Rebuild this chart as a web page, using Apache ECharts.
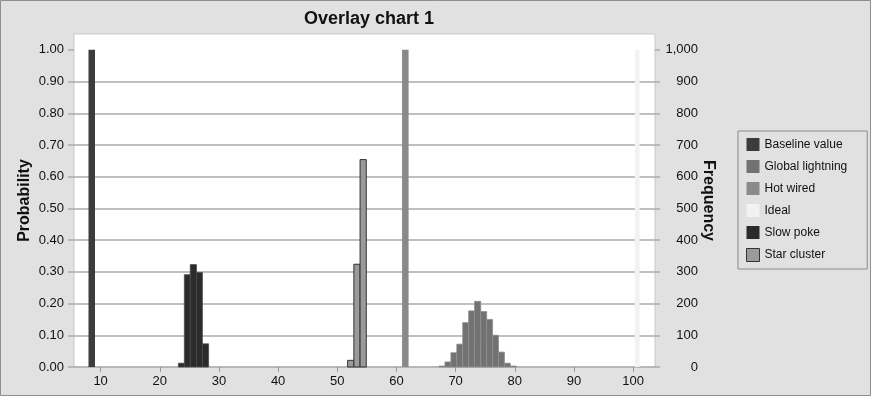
<!DOCTYPE html>
<html>
<head>
<meta charset="utf-8">
<title>Overlay chart 1</title>
<script src="https://cdn.jsdelivr.net/npm/echarts@6/dist/echarts.min.js"></script>
<style>
    html, body {margin: 0; padding: 0; background: #e1e1e1;}
    #chart {width: 871px; height: 396px;}
</style>
</head>
<body>
<div id="chart"></div>
<script>
    // 每个分箱: [起点, 终点, 概率]
    var baselineBins = [[7.95, 9.05, 1.0]];
    var globalLightningBins = [
        [67.2, 68.2, 0.003], [68.2, 69.2, 0.016], [69.2, 70.2, 0.045],
        [70.2, 71.2, 0.072], [71.2, 72.2, 0.14], [72.2, 73.2, 0.177],
        [73.2, 74.25, 0.207], [74.25, 75.25, 0.175], [75.25, 76.25, 0.15],
        [76.25, 77.25, 0.1], [77.25, 78.25, 0.047], [78.25, 79.25, 0.012],
        [79.25, 80.25, 0.003]
    ];
    var hotWiredBins = [[60.95, 62.05, 1.0]];
    var idealBins = [[100.3, 101.1, 1.0]];
    var slowPokeBins = [
        [23.15, 24.15, 0.012], [24.15, 25.15, 0.291], [25.15, 26.2, 0.323],
        [26.2, 27.2, 0.298], [27.2, 28.25, 0.073]
    ];
    var starClusterBins = [[51.75, 52.8, 0.021], [52.8, 53.85, 0.324], [53.85, 54.9, 0.654]];

    var xTicks = [10, 20, 30, 40, 50, 60, 70, 80, 90, 100];
    var probTicks = [0, 0.1, 0.2, 0.3, 0.4, 0.5, 0.6, 0.7, 0.8, 0.9, 1.0];
    var freqTicks = [0, 100, 200, 300, 400, 500, 600, 700, 800, 900, 1000];

    var font = '"Liberation Sans", Arial, sans-serif';
    var gridColor = '#ababab';

    var renderBins = function (params, api) {
        var topLeft = api.coord([api.value(0), api.value(2)]);
        var bottomRight = api.coord([api.value(1), 0]);
        return {
            type: 'rect',
            shape: {
                x: topLeft[0],
                y: topLeft[1],
                width: bottomRight[0] - topLeft[0],
                height: bottomRight[1] - topLeft[1]
            },
            style: api.style()
        };
    };

    var binSeries = function (name, data, itemStyle) {
        return {
            name: name,
            type: 'custom',
            renderItem: renderBins,
            encode: {x: [0, 1], y: 2},
            itemStyle: itemStyle,
            data: data
        };
    };

    var noBorder = {borderWidth: 0};

    var option = {
        backgroundColor: '#e1e1e1',
        animation: false,
        textStyle: {fontFamily: font},
        title: {
            text: 'Overlay chart 1',
            left: 364,
            top: 5,
            textAlign: 'center',
            textStyle: {fontFamily: font, fontSize: 18, fontWeight: 'bold', color: '#111'}
        },
        graphic: [{
            type: 'rect',
            shape: {x: 0.5, y: 0.5, width: 870, height: 395},
            style: {fill: 'none', stroke: '#8e8e8e', lineWidth: 1},
            silent: true
        }],
        legend: {
            orient: 'vertical',
            left: 738,
            top: 131,
            padding: [7, 20, 7, 8],
            itemWidth: 13,
            itemHeight: 13,
            itemGap: 9,
            icon: 'rect',
            borderColor: '#8a8a8a',
            borderWidth: 1,
            textStyle: {fontFamily: font, fontSize: 12, color: '#111'},
            data: [
                {name: 'Baseline value', itemStyle: noBorder},
                {name: 'Global lightning', itemStyle: noBorder},
                {name: 'Hot wired', itemStyle: noBorder},
                {name: 'Ideal', itemStyle: noBorder},
                {name: 'Slow poke', itemStyle: noBorder},
                {name: 'Star cluster', itemStyle: {borderColor: '#333', borderWidth: 1}}
            ]
        },
        grid: {
            left: 74,
            top: 34,
            width: 581,
            height: 333,
            show: true,
            backgroundColor: '#fff',
            borderColor: '#c9c9c9',
            borderWidth: 1
        },
        xAxis: {
            type: 'value',
            min: 5.5,
            max: 103.7,
            axisLine: {show: false},
            splitLine: {show: false},
            axisTick: {show: true, customValues: xTicks, length: 5, lineStyle: {color: '#999'}},
            axisLabel: {customValues: xTicks, margin: 8, fontSize: 13, color: '#111', fontFamily: font}
        },
        yAxis: [{
            type: 'value',
            min: 0,
            max: 1.05,
            interval: 0.1,
            name: 'Probability',
            nameLocation: 'middle',
            nameGap: 41,
            nameMoveOverlap: false,
            nameTextStyle: {fontFamily: font, fontSize: 16, fontWeight: 'bold', color: '#111'},
            axisLine: {show: false},
            axisTick: {show: true, customValues: probTicks, length: 6, lineStyle: {color: gridColor, width: 1.5}},
            axisLabel: {
                customValues: probTicks,
                margin: 10,
                fontSize: 13,
                color: '#111',
                fontFamily: font,
                formatter: function (v) { return v.toFixed(2); }
            },
            splitLine: {show: true, showMaxLine: false, lineStyle: {color: gridColor, width: 1.5}}
        }, {
            type: 'value',
            min: 0,
            max: 1050,
            interval: 100,
            position: 'right',
            name: 'Frequency',
            nameLocation: 'middle',
            nameRotate: -90,
            nameGap: 45,
            nameMoveOverlap: false,
            nameTextStyle: {fontFamily: font, fontSize: 16, fontWeight: 'bold', color: '#111'},
            axisLine: {show: false},
            splitLine: {show: false},
            axisTick: {show: true, customValues: freqTicks, length: 5, lineStyle: {color: gridColor, width: 1.5}},
            axisLabel: {
                customValues: freqTicks,
                margin: 43,
                align: 'right',
                fontSize: 13,
                color: '#111',
                fontFamily: font,
                formatter: function (v) { return v.toLocaleString('en-US'); }
            }
        }],
        series: [
            binSeries('Baseline value', baselineBins, {color: '#3c3c3c'}),
            binSeries('Global lightning', globalLightningBins, {color: '#727272', borderColor: '#8e8e8e', borderWidth: 0.8}),
            binSeries('Hot wired', hotWiredBins, {color: '#8a8a8a'}),
            binSeries('Ideal', idealBins, {color: '#f2f2f2'}),
            binSeries('Slow poke', slowPokeBins, {color: '#2b2b2b', borderColor: '#4a4a4a', borderWidth: 0.8}),
            binSeries('Star cluster', starClusterBins, {color: '#9a9a9a', borderColor: '#333', borderWidth: 1})
        ]
    };

    var chart = echarts.init(document.getElementById('chart'));
    chart.setOption(option);
</script>
</body>
</html>
